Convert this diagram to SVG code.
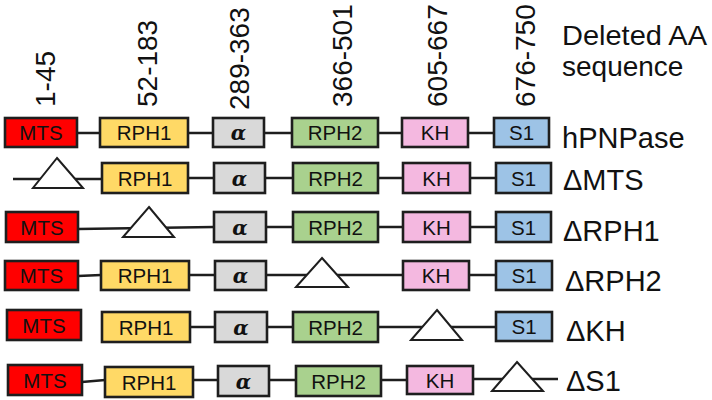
<svg xmlns="http://www.w3.org/2000/svg" width="712" height="400" viewBox="0 0 712 400">
<style>
.b{stroke:#1e1e1e;stroke-width:2.6}
.mts{fill:#ff0000}.r1{fill:#ffd966}.al{fill:#d9d9d9}.r2{fill:#a9d18e}.kh{fill:#f4b8e0}.s1{fill:#9dc3e6}
.t{font-family:"Liberation Sans",Arial,sans-serif;font-size:20.5px;fill:#111;text-anchor:middle}
.a{font-family:"DejaVu Serif","Liberation Serif",serif;font-style:italic;font-weight:bold;font-size:20px;fill:#111;text-anchor:middle}
.big{font-family:"Liberation Sans",Arial,sans-serif;font-size:29px;fill:#111}
.hd{font-family:"Liberation Sans",Arial,sans-serif;font-size:28px;fill:#111}
.rot{font-family:"Liberation Sans",Arial,sans-serif;font-size:28px;fill:#111}
.ln{stroke:#1e1e1e;stroke-width:2.6;fill:none}
.tri{fill:#fff;stroke:#1e1e1e;stroke-width:2}
</style>
<g id="headers">
<text class="rot" transform="translate(55,107) rotate(-90)">1-45</text>
<text class="rot" transform="translate(157,107) rotate(-90)">52-183</text>
<text class="rot" transform="translate(249,110) rotate(-90)">289-363</text>
<text class="rot" transform="translate(352,107) rotate(-90)">366-501</text>
<text class="rot" transform="translate(447,107) rotate(-90)">605-667</text>
<text class="rot" transform="translate(535,107) rotate(-90)">676-750</text>
<text class="hd" x="562" y="45" textLength="145" lengthAdjust="spacingAndGlyphs">Deleted AA</text>
<text class="hd" x="562" y="76">sequence</text>
</g>
<g id="connectors">
<path class="ln" d="M77 133H100M188 133H213M264 133H292M378 133H402M468 133H494"/>
<path class="ln" d="M13 179H102M188 178H214M265 178H293M378 178H403M470 178H496"/>
<path class="ln" d="M78 229L214 227M266 227H293M378 227H403M470 227H496"/>
<path class="ln" d="M78 276L101 275M189 275H215M266 275H403M469 275H496"/>
<path class="ln" d="M190 327H215M267 327H293M378 327H496"/>
<path class="ln" d="M82 382L105 380M193 380H218M269 380H296M381 380H407M473 379H558"/>
</g>
<g id="row1">
<g id="r1-mts"><rect class="b mts" x="5" y="118" width="72" height="29"/><text class="t" x="41" y="140">MTS</text></g>
<g id="r1-rph1"><rect class="b r1" x="100" y="118" width="88" height="29"/><text class="t" x="144" y="140">RPH1</text></g>
<g id="r1-alpha"><rect class="b al" x="213" y="118" width="51" height="29"/><text class="a" x="238.5" y="140">α</text></g>
<g id="r1-rph2"><rect class="b r2" x="292" y="118" width="86" height="29"/><text class="t" x="335" y="140">RPH2</text></g>
<g id="r1-kh"><rect class="b kh" x="402" y="118" width="66" height="29"/><text class="t" x="435" y="140">KH</text></g>
<g id="r1-s1"><rect class="b s1" x="494" y="118" width="55" height="29"/><text class="t" x="521.5" y="140">S1</text></g>
<text class="big" x="562" y="148">hPNPase</text>
</g>
<g id="row2">
<polygon id="r2-del" class="tri" points="57,158 83,188 33,188"/>
<g id="r2-rph1"><rect class="b r1" x="102" y="163" width="86" height="30"/><text class="t" x="145" y="185.5">RPH1</text></g>
<g id="r2-alpha"><rect class="b al" x="214" y="163" width="51" height="30"/><text class="a" x="239.5" y="185.5">α</text></g>
<g id="r2-rph2"><rect class="b r2" x="293" y="163" width="85" height="30"/><text class="t" x="335.5" y="185.5">RPH2</text></g>
<g id="r2-kh"><rect class="b kh" x="403" y="163" width="67" height="30"/><text class="t" x="436.5" y="185.5">KH</text></g>
<g id="r2-s1"><rect class="b s1" x="496" y="163" width="55" height="30"/><text class="t" x="523.5" y="185.5">S1</text></g>
<text class="big" x="563" y="190">ΔMTS</text>
</g>
<g id="row3">
<g id="r3-mts"><rect class="b mts" x="6" y="212" width="72" height="30"/><text class="t" x="42" y="234.5">MTS</text></g>
<polygon id="r3-del" class="tri" points="149,207 174,237 123,237"/>
<g id="r3-alpha"><rect class="b al" x="214" y="212" width="52" height="30"/><text class="a" x="240" y="234.5">α</text></g>
<g id="r3-rph2"><rect class="b r2" x="293" y="212" width="85" height="30"/><text class="t" x="335.5" y="234.5">RPH2</text></g>
<g id="r3-kh"><rect class="b kh" x="403" y="212" width="67" height="30"/><text class="t" x="436.5" y="234.5">KH</text></g>
<g id="r3-s1"><rect class="b s1" x="496" y="212" width="55" height="30"/><text class="t" x="523.5" y="234.5">S1</text></g>
<text class="big" x="563" y="241">ΔRPH1</text>
</g>
<g id="row4">
<g id="r4-mts"><rect class="b mts" x="5" y="261" width="73" height="29"/><text class="t" x="41.5" y="283">MTS</text></g>
<g id="r4-rph1"><rect class="b r1" x="101" y="261" width="88" height="29"/><text class="t" x="145" y="283">RPH1</text></g>
<g id="r4-alpha"><rect class="b al" x="215" y="261" width="51" height="29"/><text class="a" x="240.5" y="283">α</text></g>
<polygon id="r4-del" class="tri" points="322,258 348,287 296,287"/>
<g id="r4-kh"><rect class="b kh" x="403" y="261" width="66" height="29"/><text class="t" x="436" y="283">KH</text></g>
<g id="r4-s1"><rect class="b s1" x="496" y="261" width="56" height="29"/><text class="t" x="524" y="283">S1</text></g>
<text class="big" x="565" y="291">ΔRPH2</text>
</g>
<g id="row5">
<g id="r5-mts"><rect class="b mts" x="7" y="310" width="74" height="30"/><text class="t" x="44" y="332.5">MTS</text></g>
<g id="r5-rph1"><rect class="b r1" x="102" y="312" width="88" height="30"/><text class="t" x="146" y="334.5">RPH1</text></g>
<g id="r5-alpha"><rect class="b al" x="215" y="312" width="52" height="30"/><text class="a" x="241" y="334.5">α</text></g>
<g id="r5-rph2"><rect class="b r2" x="293" y="312" width="85" height="30"/><text class="t" x="335.5" y="334.5">RPH2</text></g>
<polygon id="r5-del" class="tri" points="437,310 462,340 411,340"/>
<g id="r5-s1"><rect class="b s1" x="496" y="312" width="56" height="29"/><text class="t" x="524" y="334">S1</text></g>
<text class="big" x="566" y="341">ΔKH</text>
</g>
<g id="row6">
<g id="r6-mts"><rect class="b mts" x="8" y="365" width="74" height="30"/><text class="t" x="45" y="387.5">MTS</text></g>
<g id="r6-rph1"><rect class="b r1" x="105" y="367" width="88" height="30"/><text class="t" x="149" y="389.5">RPH1</text></g>
<g id="r6-alpha"><rect class="b al" x="218" y="366" width="51" height="30"/><text class="a" x="243.5" y="388.5">α</text></g>
<g id="r6-rph2"><rect class="b r2" x="296" y="366" width="85" height="30"/><text class="t" x="338.5" y="388.5">RPH2</text></g>
<g id="r6-kh"><rect class="b kh" x="407" y="366" width="66" height="28"/><text class="t" x="440" y="387.5">KH</text></g>
<polygon id="r6-del" class="tri" points="517,362 543,391 492,391"/>
<text class="big" x="566" y="391">ΔS1</text>
</g>
</svg>
